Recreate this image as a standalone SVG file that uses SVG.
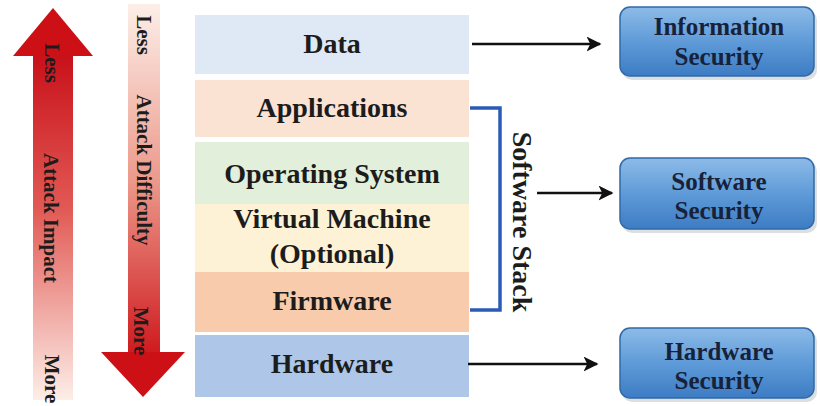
<svg xmlns="http://www.w3.org/2000/svg" width="820" height="406" viewBox="0 0 820 406">
  <defs>
    <linearGradient id="impactFade" x1="0" y1="0" x2="0" y2="1">
      <stop offset="0" stop-color="#c8101a"/>
      <stop offset="0.45" stop-color="#e25a55"/>
      <stop offset="1" stop-color="#fdeee8"/>
    </linearGradient>
    <linearGradient id="difficultyFade" x1="0" y1="0" x2="0" y2="1">
      <stop offset="0" stop-color="#fcefe8"/>
      <stop offset="0.5" stop-color="#ec9a8c"/>
      <stop offset="1" stop-color="#cf1a1e"/>
    </linearGradient>
    <linearGradient id="boxFill" x1="0" y1="0" x2="0" y2="1">
      <stop offset="0" stop-color="#8dbbe8"/>
      <stop offset="0.5" stop-color="#5f9bd8"/>
      <stop offset="1" stop-color="#3d7cc4"/>
    </linearGradient>
    <marker id="arrowHead" viewBox="0 0 10 10" refX="9" refY="5" markerWidth="6" markerHeight="6" markerUnits="strokeWidth" orient="auto">
      <path d="M0,0 L10,5 L0,10 L2.5,5 Z" fill="#111"/>
    </marker>
    <style>
      .label { font-family: "Liberation Serif", "Times New Roman", serif; font-weight: bold; fill: #1c1c1c; text-anchor: middle; }
      .layer-text { font-size: 28px; }
      .axis-text { font-size: 21px; }
      .box-text { font-size: 25px; fill: #17223a; }
      .box { fill: url(#boxFill); stroke: #2f69a6; stroke-width: 1.5; }
      .shadow { fill: #9aa3ad; opacity: 0.35; }
      .link { stroke: #111; stroke-width: 2.5; fill: none; marker-end: url(#arrowHead); }
      .bracket { stroke: #2a5cb5; stroke-width: 3.5; fill: none; }
    </style>
  </defs>

  <rect width="820" height="406" fill="#ffffff"/>

  <!-- Attack impact scale (up arrow) -->
  <g id="impact-arrow">
    <rect x="33" y="54" width="40" height="346" fill="url(#impactFade)"/>
    <polygon points="53,8 93,56 13,56" fill="#cc1016"/>
    <g transform="translate(52,63) rotate(90)"><text class="label axis-text" x="0" y="7">Less</text></g>
    <g transform="translate(51,218) rotate(90)"><text class="label axis-text" x="0" y="7">Attack Impact</text></g>
    <g transform="translate(52,379) rotate(90)"><text class="label axis-text" x="0" y="7">More</text></g>
  </g>

  <!-- Attack difficulty scale (down arrow) -->
  <g id="difficulty-arrow">
    <rect x="128" y="4" width="32" height="350" fill="url(#difficultyFade)"/>
    <polygon points="101,352 185,352 143,397" fill="#cc1016"/>
    <g transform="translate(144,35) rotate(90)"><text class="label axis-text" x="0" y="7">Less</text></g>
    <g transform="translate(144,170) rotate(90)"><text class="label axis-text" x="0" y="7">Attack Difficulty</text></g>
    <g transform="translate(141,331) rotate(90)"><text class="label axis-text" x="0" y="7">More</text></g>
  </g>

  <!-- Stack layers -->
  <g id="layer-data">
    <rect x="195" y="15" width="274" height="59" fill="#dfe9f5"/>
    <text class="label layer-text" x="332" y="53">Data</text>
  </g>
  <g id="layer-applications">
    <rect x="195" y="80" width="274" height="57" fill="#fbe3d4"/>
    <text class="label layer-text" x="332" y="117">Applications</text>
  </g>
  <g id="layer-os">
    <rect x="195" y="142" width="274" height="62" fill="#e2efda"/>
    <text class="label layer-text" x="332" y="183">Operating System</text>
  </g>
  <g id="layer-vm">
    <rect x="195" y="204" width="274" height="68" fill="#fdf2d5"/>
    <text class="label layer-text" x="332" y="228">Virtual Machine</text>
    <text class="label layer-text" x="332" y="263">(Optional)</text>
  </g>
  <g id="layer-firmware">
    <rect x="195" y="272" width="274" height="60" fill="#f8cbad"/>
    <text class="label layer-text" x="332" y="310">Firmware</text>
  </g>
  <g id="layer-hardware">
    <rect x="195" y="335" width="274" height="62" fill="#aec6e8"/>
    <text class="label layer-text" x="332" y="373">Hardware</text>
  </g>

  <!-- Software stack bracket -->
  <g id="software-stack">
    <polyline class="bracket" points="470,108 500,108 500,310 470,310"/>
    <g transform="translate(522,222) rotate(90)"><text class="label layer-text" x="0" y="9">Software Stack</text></g>
  </g>

  <!-- Security domains -->
  <g id="box-information">
    <rect class="shadow" x="622" y="10" width="195" height="70" rx="10"/>
    <rect class="box" x="620" y="7" width="194" height="69" rx="10"/>
    <text class="label box-text" x="719" y="35">Information</text>
    <text class="label box-text" x="719" y="65">Security</text>
  </g>
  <g id="box-software">
    <rect class="shadow" x="622" y="161" width="195" height="72" rx="10"/>
    <rect class="box" x="620" y="158" width="194" height="71" rx="10"/>
    <text class="label box-text" x="719" y="190">Software</text>
    <text class="label box-text" x="719" y="219">Security</text>
  </g>
  <g id="box-hardware">
    <rect class="shadow" x="622" y="331" width="195" height="71" rx="10"/>
    <rect class="box" x="620" y="328" width="194" height="70" rx="10"/>
    <text class="label box-text" x="719" y="360">Hardware</text>
    <text class="label box-text" x="719" y="389">Security</text>
  </g>

  <!-- Connectors -->
  <g id="connectors">
    <line class="link" x1="472" y1="44" x2="600" y2="44"/>
    <line class="link" x1="537" y1="193" x2="612" y2="193"/>
    <line class="link" x1="468" y1="364" x2="597" y2="364"/>
  </g>
</svg>
